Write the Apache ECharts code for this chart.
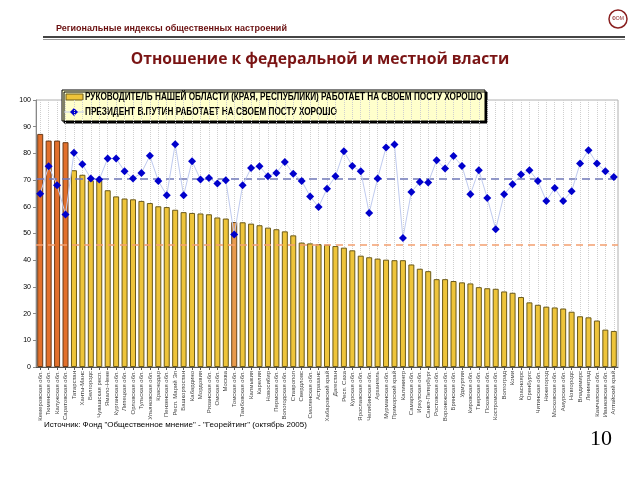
<!DOCTYPE html>
<html><head><meta charset="utf-8">
<script src="https://cdn.jsdelivr.net/npm/echarts@6/dist/echarts.min.js"></script>
<style>html,body{margin:0;padding:0;background:#fff}#c{width:640px;height:480px}</style>
</head><body><div id="c"></div>
<script>
const regions = ["Кемеровская обл.","Тюменская обл.","Калужская обл.","Саратовская обл.","Татарстан","Ханты-Мансийский АО","Белгородская обл.","Чувашская респ.","Ямало-Ненецкий АО","Курганская обл.","Липецкая обл.","Орловская обл.","Тульская обл.","Ульяновская обл.","Краснодарский край","Пензенская обл.","Респ. Марий Эл","Башкортостан","Кабардино-Балкария","Мордовия","Рязанская обл.","Омская обл.","Москва","Томская обл.","Тамбовская обл.","Калмыкия","Карелия","Новосибирская обл.","Пермская обл.","Вологодская обл.","Ставропольский край","Свердловская обл.","Смоленская обл.","Астраханская обл.","Хабаровский край","Дагестан","Респ. Саха (Якутия)","Курская обл.","Ярославская обл.","Челябинская обл.","Архангельская обл.","Мурманская обл.","Приморский край","Калининградская обл.","Самарская обл.","Иркутская обл.","Санкт-Петербург","Ростовская обл.","Воронежская обл.","Брянская обл.","Удмуртия","Кировская обл.","Тверская обл.","Псковская обл.","Костромская обл.","Волгоградская обл.","Коми","Красноярский край","Оренбургская обл.","Читинская обл.","Нижегородская обл.","Московская обл.","Амурская обл.","Новгородская обл.","Владимирская обл.","Ленинградская обл.","Камчатская обл.","Ивановская обл.","Алтайский край"];
const governorGood = [87.3,84.8,84.8,84.2,73.7,72.0,69.9,69.9,66.2,63.9,63.1,62.8,62.2,61.4,60.2,59.9,58.9,58.0,57.7,57.5,57.2,56.0,55.6,54.3,54.2,53.7,53.1,52.2,51.6,50.8,49.3,46.6,46.3,46.0,45.8,45.3,44.7,43.7,41.7,41.1,40.6,40.2,40.0,40.0,38.4,36.8,35.9,32.9,32.9,32.2,31.7,31.3,29.9,29.5,29.3,28.3,27.8,26.2,24.2,23.3,22.6,22.3,21.9,20.7,19.0,18.6,17.4,14.0,13.5];
const putinGood = [64.9,75.2,68.1,57.1,80.2,75.9,70.6,70.2,78.1,78.1,73.3,70.6,72.7,79.1,69.7,64.3,83.4,64.3,77.1,70.2,70.8,68.7,69.9,49.6,68.1,74.5,75.2,71.4,72.7,76.8,72.4,69.7,63.9,59.9,66.8,71.4,80.8,75.3,73.3,57.7,70.6,82.2,83.3,48.3,65.5,69.3,69.1,77.4,74.3,79.0,75.3,64.7,73.7,63.3,51.6,64.7,68.4,72.1,73.7,69.7,62.2,67.0,62.2,65.8,76.2,81.2,76.2,73.3,71.2];
const highlighted = [0,1,2,3];
const highlightedLight = [23];
const governorAvg = 45.6;
const putinAvg = 70.5;
const yTicks = [0,10,20,30,40,50,60,70,80,90,100];

const nameGov = "РУКОВОДИТЕЛЬ НАШЕЙ ОБЛАСТИ (КРАЯ, РЕСПУБЛИКИ) РАБОТАЕТ НА СВОЕМ ПОСТУ ХОРОШО";
const namePut = "ПРЕЗИДЕНТ В.ПУТИН РАБОТАЕТ НА СВОЕМ ПОСТУ ХОРОШО";

const chart = echarts.init(document.getElementById('c'), null, {renderer:'canvas'});
const barData = governorGood.map((v,i)=> highlighted.includes(i)
  ? {value:v, itemStyle:{color:'#E2702C', borderColor:'#6a3a18'}}
  : highlightedLight.includes(i) ? {value:v, itemStyle:{color:'#E89A4C', borderColor:'#6a4a20'}} : v);

const legendFont = {fontFamily:'Liberation Sans, Arial, sans-serif', fontWeight:'bold', fontSize:10, fill:'#000'};

chart.setOption({
  animation:false,
  backgroundColor:'#fff',
  grid:{left:36, right:22, top:100, bottom:113, show:true, borderColor:'#b0b0b0', borderWidth:1, backgroundColor:'transparent'},
  xAxis:{
    type:'category', data:regions, boundaryGap:true,
    axisLine:{lineStyle:{color:'#555'}},
    axisTick:{show:true, alignWithLabel:true, length:3, lineStyle:{color:'#555'}},
    splitLine:{show:true, alignWithLabel:true, lineStyle:{color:'#cfcfcf', type:'dotted', width:1}},
    axisLabel:{interval:0, rotate:90, fontSize:6, color:'#444', margin:4, width:52, overflow:'truncate', ellipsis:'', fontFamily:'Liberation Sans, Arial, sans-serif'}
  },
  yAxis:{
    type:'value', min:0, max:100, interval:10,
    axisLine:{show:true, lineStyle:{color:'#888'}},
    axisTick:{show:true, length:3, lineStyle:{color:'#888'}},
    splitLine:{show:false},
    axisLabel:{fontSize:7, color:'#000', margin:5, fontFamily:'Liberation Sans, Arial, sans-serif',
      formatter:v=> yTicks.includes(v) ? String(v) : ''}
  },
  series:[
    {name:nameGov, type:'bar', data:barData, barWidth:6,
     itemStyle:{color:'#EEC43A', borderColor:'#6b5a1a', borderWidth:1},
     markLine:{symbol:'none', silent:true, label:{show:false},
       lineStyle:{color:'#F4A070', type:[7,5], width:1.5},
       data:[{yAxis:governorAvg}]}},
    {name:namePut, type:'line', data:putinGood, symbol:'diamond', symbolSize:8,
     itemStyle:{color:'#0000CC'},
     lineStyle:{color:'#c0cbef', width:1},
     z:5,
     markLine:{symbol:'none', silent:true, label:{show:false},
       lineStyle:{color:'#7078B8', type:[8,5], width:1.5},
       data:[{yAxis:putinAvg}]}}
  ],
  graphic:[
    {type:'text', left:56, top:24, style:{text:'Региональные индексы общественных настроений', fill:'#6a1010', fontSize:9, fontWeight:'bold', fontFamily:'Liberation Sans, sans-serif'}},
    {type:'rect', shape:{x:43, y:36, width:582, height:2}, style:{fill:'#444'}},
    {type:'rect', shape:{x:43, y:39, width:582, height:1}, style:{fill:'#999'}},
    {type:'text', left:'center', top:52, style:{text:'Отношение к федеральной и местной власти', fill:'#7a1414', fontSize:15.7, fontWeight:'bold', fontFamily:'Open Sans, Liberation Sans, sans-serif'}},
    {type:'circle', shape:{cx:618, cy:19, r:9}, style:{fill:'#fff', stroke:'#8a2020', lineWidth:1.5}},
    {type:'text', x:618, y:19, style:{text:'ФОМ', fill:'#8a2020', fontSize:5, align:'center', verticalAlign:'middle'}},
    {type:'group', z:100, children:[
      {type:'rect', shape:{x:62, y:90, width:423, height:31}, style:{fill:'#FFFFCC', stroke:'#000', lineWidth:1, shadowColor:'#000', shadowOffsetX:2, shadowOffsetY:2, shadowBlur:0}},
      {type:'rect', shape:{x:66, y:94, width:17, height:6}, style:{fill:'#EEC43A', stroke:'#6b5a1a', lineWidth:1}},
      {type:'text', x:85, y:97.5, scaleX:0.82, originX:0, originY:0, style:Object.assign({text:nameGov, verticalAlign:'middle'}, legendFont)},
      {type:'line', shape:{x1:64, y1:112, x2:84, y2:112}, style:{stroke:'#c0cbef', lineWidth:1}},
      {type:'polygon', shape:{points:[[74,108],[78,112],[74,116],[70,112]]}, style:{fill:'#0000CC'}},
      {type:'text', x:85, y:112.5, scaleX:0.82, originX:0, originY:0, style:Object.assign({text:namePut, verticalAlign:'middle'}, legendFont)}
    ]},
    {type:'text', left:44, top:421, style:{text:'Источник: Фонд "Общественное мнение" - "Георейтинг" (октябрь 2005)', fill:'#000', fontSize:8, fontFamily:'Liberation Sans, Arial, sans-serif'}},
    {type:'text', left:590, top:428, style:{text:'10', fill:'#000', fontSize:22, fontFamily:'Liberation Serif, Times New Roman, serif'}}
  ]
});
</script></body></html>
